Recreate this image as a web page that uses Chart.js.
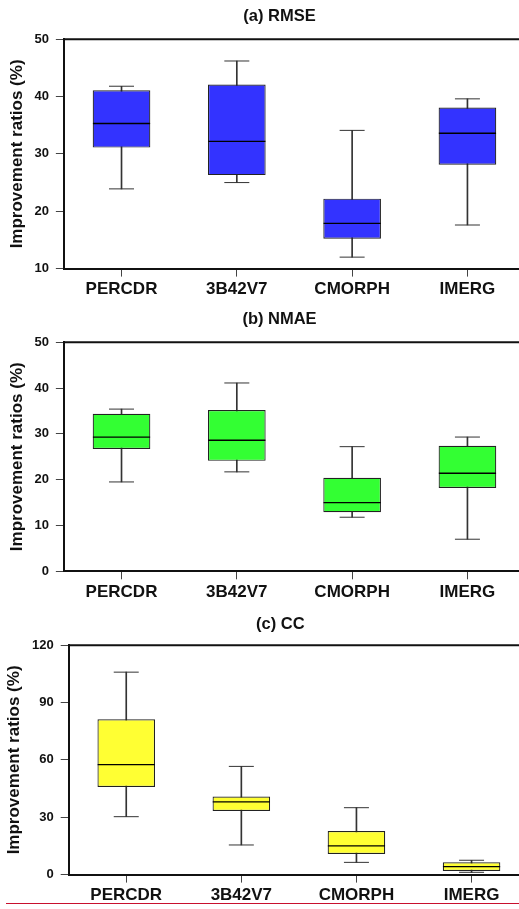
<!DOCTYPE html>
<html>
<head>
<meta charset="utf-8">
<script src="https://cdn.jsdelivr.net/npm/chart.js@4.4.1/dist/chart.umd.min.js"></script>
<style>
  html, body { margin: 0; padding: 0; background: #fff; width: 519px; overflow: hidden; }
  .panel { position: relative; width: 519px; overflow: hidden; }
  canvas { display: block; }
  #redline { position: absolute; left: 6px; top: 903px; width: 513px; height: 0; border-top: 1px solid #c8102e; }
</style>
</head>
<body>
<div class="panel" style="height:303px"><canvas id="rmseChart" width="555" height="303"></canvas></div>
<div class="panel" style="height:305px"><canvas id="nmaeChart" width="555" height="305"></canvas></div>
<div class="panel" style="height:301px"><canvas id="ccChart" width="559" height="301"></canvas></div>
<div id="redline"></div>
<script>
// products on the x axis
const products = ['PERCDR', '3B42V7', 'CMORPH', 'IMERG'];

// (a) RMSE improvement ratios: whisker low, Q1, median, Q3, whisker high
const rmseLow  = [23.9, 25.0, 12.0, 17.6];
const rmseQ1   = [31.1, 26.3, 15.2, 28.1];
const rmseMed  = [35.3, 32.2, 17.9, 33.6];
const rmseQ3   = [41.1, 42.1, 22.2, 38.1];
const rmseHigh = [41.8, 46.2, 34.1, 39.6];

// (b) NMAE
const nmaeLow  = [19.5, 21.7, 11.8, 7.0];
const nmaeQ1   = [26.7, 24.1, 12.9, 18.2];
const nmaeMed  = [29.3, 28.6, 15.0, 21.4];
const nmaeQ3   = [34.4, 35.2, 20.4, 27.4];
const nmaeHigh = [35.4, 41.1, 27.2, 29.3];

// (c) CC
const ccLow  = [30.3, 15.5, 6.4, 1.2];
const ccQ1   = [45.8, 33.3, 10.8, 1.9];
const ccMed  = [57.5, 38.0, 15.0, 4.2];
const ccQ3   = [81.3, 40.8, 22.8, 6.4];
const ccHigh = [105.9, 56.6, 35.0, 7.5];

const FONT = 'Liberation Sans, Arial, sans-serif';
const INK = '#111';

// top edge of the plot frame (left/bottom come from the axes)
const topFrame = {
  id: 'topFrame',
  afterDraw(chart) {
    const { ctx, chartArea } = chart;
    ctx.save();
    ctx.strokeStyle = INK;
    ctx.lineWidth = 2;
    ctx.beginPath();
    ctx.moveTo(chartArea.left, chartArea.top);
    ctx.lineTo(chartArea.right, chartArea.top);
    ctx.stroke();
    ctx.restore();
  }
};

function boxChart(id, title, fill, yMin, yMax, step, low, q1, med, q3, high, pad) {
  const ctx = document.getElementById(id).getContext('2d');
  return new Chart(ctx, {
    data: {
      labels: products,
      datasets: [{
        // whisker stems
        type: 'bar',
        data: products.map((p, i) => [low[i], high[i]]),
        backgroundColor: '#333',
        barThickness: 1,
        grouped: false,
        order: 4
      }, {
        // boxes Q1..Q3
        type: 'bar',
        data: products.map((p, i) => [q1[i], q3[i]]),
        backgroundColor: fill,
        borderColor: '#222',
        borderWidth: 1.2,
        borderSkipped: false,
        barPercentage: 0.5,
        categoryPercentage: 1,
        grouped: false,
        order: 3
      }, {
        // upper caps
        type: 'line',
        data: high,
        showLine: false,
        pointStyle: 'line',
        pointRadius: 12.5,
        pointBorderWidth: 1,
        pointBorderColor: '#333',
        order: 2
      }, {
        // lower caps
        type: 'line',
        data: low,
        showLine: false,
        pointStyle: 'line',
        pointRadius: 12.5,
        pointBorderWidth: 1,
        pointBorderColor: '#333',
        order: 2
      }, {
        // medians
        type: 'line',
        data: med,
        showLine: false,
        pointStyle: 'line',
        pointRadius: 28.6,
        pointBorderWidth: 1.3,
        pointBorderColor: '#000',
        order: 1
      }]
    },
    options: {
      responsive: false,
      animation: false,
      layout: { padding: pad.layout },
      plugins: {
        legend: { display: false },
        tooltip: { enabled: false },
        title: {
          display: true,
          text: title,
          color: INK,
          font: { family: FONT, size: 16.5, weight: 'bold' },
          padding: pad.title
        }
      },
      scales: {
        x: {
          type: 'category',
          offset: true,
          grid: { offset: false, drawOnChartArea: false, drawTicks: true, tickLength: 8, color: '#444' },
          border: { display: true, color: INK, width: 2 },
          ticks: { color: INK, padding: 3, maxRotation: 0, font: { family: FONT, size: 17, weight: 'bold' } }
        },
        y: {
          min: yMin,
          max: yMax,
          grid: { drawOnChartArea: false, drawTicks: true, tickLength: 8, color: '#444' },
          border: { display: true, color: INK, width: 2 },
          ticks: { stepSize: step, color: INK, padding: 7, font: { family: FONT, size: 13, weight: 'bold' } },
          title: {
            display: true,
            text: 'Improvement ratios (%)',
            color: INK,
            font: { family: FONT, size: 17, weight: 'bold' },
            padding: { top: 3, bottom: 0 }
          }
        }
      }
    },
    plugins: [topFrame]
  });
}

boxChart('rmseChart', '(a) RMSE', '#3333ff', 10, 50, 10,
  rmseLow, rmseQ1, rmseMed, rmseQ3, rmseHigh,
  { layout: { left: 4, right: 0, top: 0, bottom: 0 }, title: { top: 7, bottom: 12.4 } });

boxChart('nmaeChart', '(b) NMAE', '#33ff33', 0, 50, 10,
  nmaeLow, nmaeQ1, nmaeMed, nmaeQ3, nmaeHigh,
  { layout: { left: 4, right: 0, top: 0, bottom: 2.3 }, title: { top: 7, bottom: 12.4 } });

boxChart('ccChart', '(c) CC', '#ffff33', 0, 120, 30,
  ccLow, ccQ1, ccMed, ccQ3, ccHigh,
  { layout: { left: 1.6, right: 0, top: 0, bottom: 0 }, title: { top: 7, bottom: 10.4 } });
</script>
</body>
</html>
